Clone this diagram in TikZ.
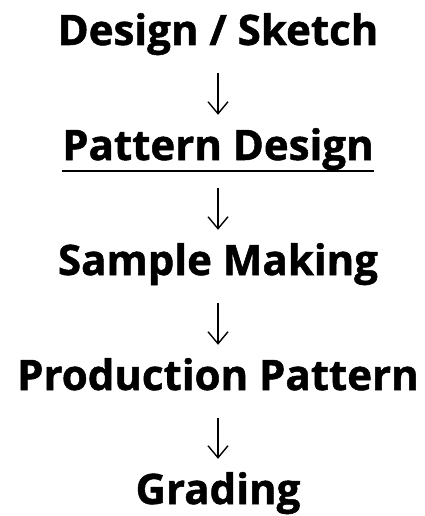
\documentclass[tikz,border=0pt]{standalone}
\usepackage{fontspec}
\setmainfont{Open Sans}[BoldFeatures={FakeBold=1.2}]
\usetikzlibrary{positioning, arrows.meta}

\tikzset{
	stage/.style={inner sep=0pt, text height=29pt, text depth=10pt, font=\fontsize{42}{50}\selectfont\bfseries},
	flow/.style={line width=1.4pt, -{Straight Barb[length=12pt, width=20pt]}, shorten <=18pt, shorten >=16pt}
}

\begin{document}
\begin{tikzpicture}[x=1pt, y=-1pt]
\useasboundingbox (0, 0) rectangle (425, 516);
\node[stage, anchor=base] (des) at (218, 45)  {Design / Sketch};
\node[stage, anchor=base] (pat) at (218, 160) {Pattern Design};
\node[stage, anchor=base] (smp) at (218, 275) {Sample Making};
\node[stage, anchor=base] (prd) at (218, 390) {Production Pattern};
\node[stage, anchor=base] (grd) at (218, 504) {Grading};
% underline
\draw[line width=2.5pt] ([yshift=-1pt]pat.south west) -- ([yshift=-1pt]pat.south east);
\foreach \a/\b in {des/pat, pat/smp, smp/prd, prd/grd}
	\draw[flow] (\a) -- (\b);
\end{tikzpicture}
\end{document}
